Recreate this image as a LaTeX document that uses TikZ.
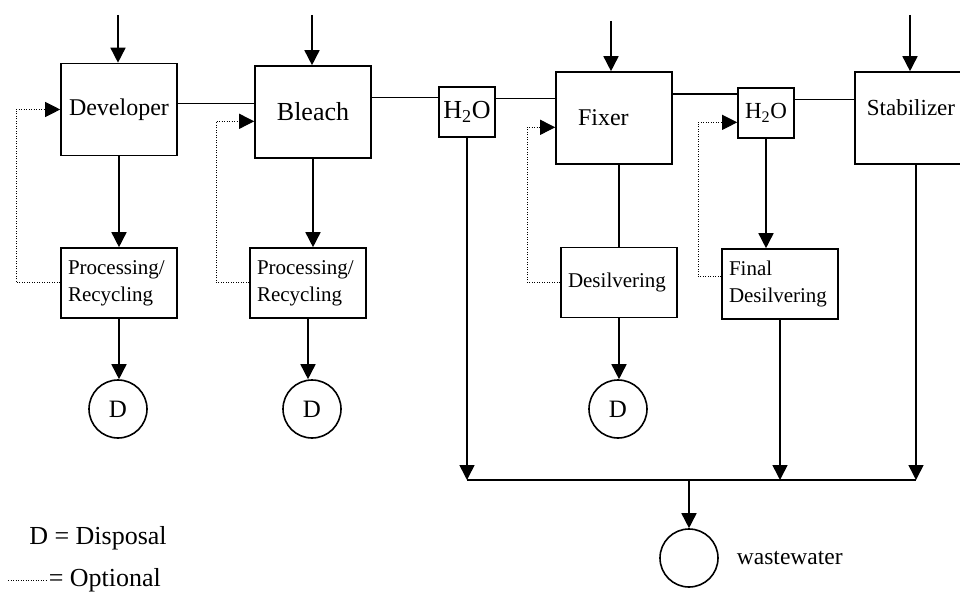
\documentclass[tikz,border=0pt]{standalone}
\usepackage{fontspec}
\setmainfont{Liberation Serif}
\usetikzlibrary{arrows.meta,positioning}

\begin{document}
\begin{tikzpicture}[x=1pt, y=-1pt, line width=1.6pt,
  box/.style={draw, rectangle, inner sep=0pt, minimum width=116pt, minimum height=92pt, font=\fontsize{24}{26}\selectfont},
  small/.style={draw, rectangle, inner sep=0pt, minimum width=56pt, minimum height=50pt},
  treat/.style={draw, rectangle, inner xsep=7pt, inner ysep=0pt, minimum height=70pt, text width=102pt, align=left, font=\fontsize{21}{27}\selectfont},
  disp/.style={draw, circle, minimum size=58pt, inner sep=0pt, font=\fontsize{25}{27}\selectfont},
  flow/.style={-{Triangle[length=15pt,width=15pt]}},
  opt/.style={line width=1pt, dash pattern=on 1pt off 1.5pt},
  optflow/.style={opt, -{Triangle[length=15pt,width=15pt]}}]
\useasboundingbox (0,0) rectangle (960,593);

% process line
\node[box, text width=100pt, inner xsep=8pt, align=left] (dev) at (119,109.5) {Developer};
\node[box, font=\fontsize{26}{28}\selectfont] (bleach) at (313,112) {Bleach};
\node[small, font=\fontsize{26}{28}\selectfont] (wa) at (467,112) {H\textsubscript{2}O};
\node[box, text width=72pt, inner xsep=22pt, align=left] (fix) at (614,118) {Fixer};
\node[small, font=\fontsize{23}{25}\selectfont] (wb) at (766,113) {H\textsubscript{2}O};
\node[box, minimum width=112pt, text depth=20pt, font=\fontsize{23}{25}\selectfont] (stab) at (911,118) {Stabilizer};

% treatment
\node[treat] (proca) at (119,283) {Processing/\\Recycling};
\node[treat] (procb) at (308,283) {Processing/\\Recycling};
\node[treat] (desil) at (619,282.5) {Desilvering};
\node[treat] (fdesil) at (780,284) {Final\\Desilvering};

\node[disp] (da) at (118,409) {D};
\node[disp] (db) at (312,409) {D};
\node[disp] (dc) at (618,409) {D};
\node[disp] (ww) at (689,558) {};
\node[right=14pt of ww, font=\fontsize{23.5}{25}\selectfont] (wwtext) {wastewater};

% legend
\node[font=\fontsize{26}{28}\selectfont] (key) at (98,538) {D = Disposal};
\coordinate (ka) at (8,580);
\coordinate (kb) at (46,580);
\node[anchor=west, inner sep=2pt, font=\fontsize{26}{28}\selectfont] (keyopt) at (kb) {= Optional};
\draw[opt] (ka) -- (kb);

% inputs
\coordinate (ina) at (118,15);
\coordinate (inb) at (312,15);
\coordinate (inc) at (611,21);
\coordinate (ind) at (910,15);
\draw[flow] (ina) -- (ina |- dev.north);
\draw[flow] (inb) -- (inb |- bleach.north);
\draw[flow] (inc) -- (inc |- fix.north);
\draw[flow] (ind) -- (ind |- stab.north);

% film path
\draw (dev.6) -- (dev.6 -| bleach.west);
\draw (bleach.14) -- (bleach.14 -| wa.west);
\draw (wa.25) -- (wa.25 -| fix.west);
\draw (fix.22) -- (fix.22 -| wb.west);
\draw (wb.25) -- (wb.25 -| stab.west);

% down to treatment
\draw[flow] (dev.south) -- (proca.north);
\draw[flow] (bleach.south) -- (bleach.south |- procb.north);
\draw (desil.north |- fix.south) -- (desil.north);
\draw[flow] (wb.south) -- (wb.south |- fdesil.north);
\draw[flow] (proca.south) -- (proca.south |- da.north);
\draw[flow] (procb.south) -- (procb.south |- db.north);
\draw[flow] (desil.south) -- (desil.south |- dc.north);

% optional returns
\draw[optflow] (proca.west) -- ++(-44,0) |- (dev.west);
\draw[optflow] (procb.west) -- ++(-33,0) |- (bleach.189);
\draw[optflow] (desil.west) -- ++(-33,0) |- (fix.189);
\draw[optflow] (fdesil.173) -- ++(-23,0) |- (wb.198);

% wastewater
\coordinate (busa) at (467,480);
\coordinate (busb) at (916,480);
\draw[flow] (wa.south) -- (wa.south |- busa);
\draw[flow] (fdesil.south) -- (fdesil.south |- busa);
\draw[flow] (busb |- stab.south) -- (busb);
\draw (busa) -- (busb);
\draw[flow] (ww.north |- busa) -- (ww.north);
\end{tikzpicture}
\end{document}
